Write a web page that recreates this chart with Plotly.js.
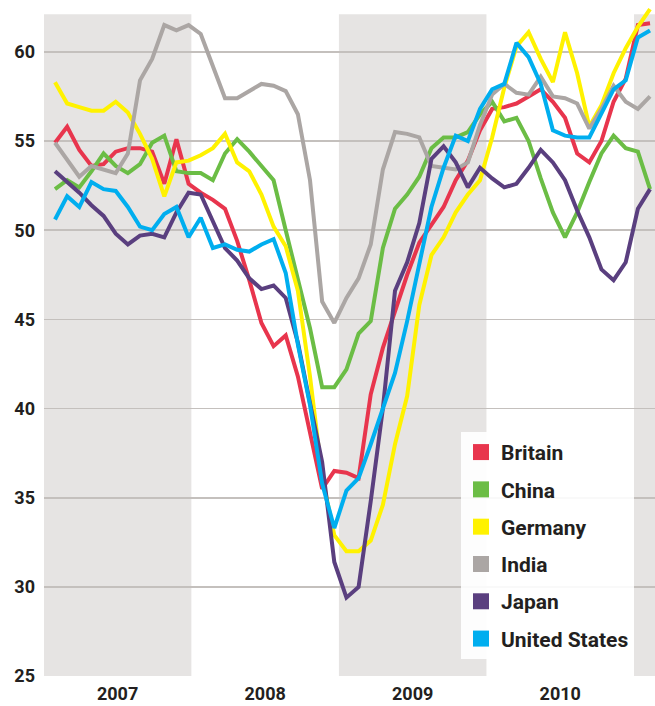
<!DOCTYPE html>
<html>
<head>
<meta charset="utf-8">
<script src="https://cdn.plot.ly/plotly-3.0.1.min.js"></script>
<style>
html,body{margin:0;padding:0;background:#ffffff;}
#chart{width:655px;height:706px;}
</style>
</head>
<body>
<div id="chart"></div>
<script>
// Monthly PMI readings, Jan 2007 - Feb 2011
const months = [
 "2007-01","2007-02","2007-03","2007-04","2007-05","2007-06","2007-07","2007-08","2007-09","2007-10","2007-11","2007-12",
 "2008-01","2008-02","2008-03","2008-04","2008-05","2008-06","2008-07","2008-08","2008-09","2008-10","2008-11","2008-12",
 "2009-01","2009-02","2009-03","2009-04","2009-05","2009-06","2009-07","2009-08","2009-09","2009-10","2009-11","2009-12",
 "2010-01","2010-02","2010-03","2010-04","2010-05","2010-06","2010-07","2010-08","2010-09","2010-10","2010-11","2010-12",
 "2011-01","2011-02"];
const years = ["2007","2008","2009","2010"];

const britain = [54.9,55.8,54.5,53.6,53.7,54.4,54.6,54.6,54.4,52.6, 55.1,52.6,52.1,51.7,51.2,49.4,47.2,44.8,43.5,44.1,
                 41.8,38.7,35.5,36.5,36.4,36.1,40.8,43.4,45.5,47.5, 49.3,50.3,51.3,52.8,53.9,55.6,56.8,56.9,57.1,57.5,
                 57.9,57.2,56.3,54.3,53.8,55.0,57.2,58.5,61.5,61.6];
const china   = [52.3,52.8,52.4,53.3,54.3,53.6,53.2,53.7,54.9,55.3, 53.3,53.2,53.2,52.8,54.3,55.1,54.4,53.6,52.8,50.0,
                 47.2,44.5,41.2,41.2,42.2,44.2,44.9,49.0,51.2,52.0, 53.0,54.6,55.2,55.2,55.5,56.5,57.2,56.1,56.3,55.0,
                 52.9,51.0,49.6,51.0,52.7,54.3,55.3,54.6,54.4,52.3];
const germany = [58.3,57.1,56.9,56.7,56.7,57.2,56.6,55.4,54.0,51.9, 53.8,53.9,54.2,54.6,55.4,53.8,53.3,52.0,50.2,49.1,
                 46.6,41.8,36.2,32.9,32.0,32.0,32.6,34.6,38.0,40.7, 45.8,48.6,49.6,51.0,52.0,52.8,55.2,58.0,60.3,61.1,
                 59.6,58.3,61.1,58.8,55.8,57.0,58.8,60.2,61.4,62.4];
const india   = [54.9,53.9,53.0,53.6,53.4,53.2,54.3,58.4,59.6,61.5, 61.2,61.5,61.0,59.2,57.4,57.4,57.8,58.2,58.1,57.8,
                 56.5,52.8,46.0,44.8,46.2,47.3,49.2,53.4,55.5,55.4, 55.2,53.6,53.5,53.4,53.8,55.9,57.6,58.2,57.7,57.6,
                 58.6,57.5,57.4,57.1,55.7,56.8,58.1,57.2,56.8,57.5];
const japan   = [53.3,52.7,52.1,51.4,50.8,49.8,49.2,49.7,49.8,49.6, 51.0,52.1,52.0,50.5,49.0,48.3,47.3,46.7,46.9,46.2,
                 43.7,40.3,37.0,31.4,29.4,30.0,34.8,40.0,46.6,48.2, 50.4,54.0,54.7,53.8,52.4,53.5,52.9,52.4,52.6,53.5,
                 54.5,53.8,52.8,51.1,49.6,47.8,47.2,48.2,51.2,52.3];
const usa     = [50.6,51.9,51.3,52.7,52.3,52.2,51.3,50.2,50.0,50.9, 51.3,49.6,50.7,49.0,49.2,48.9,48.8,49.2,49.5,47.6,
                 43.6,40.2,35.8,33.3,35.4,36.1,38.0,40.0,42.0,44.9, 48.2,51.3,53.5,55.3,55.0,56.8,57.9,58.2,60.5,59.7,
                 58.2,55.6,55.3,55.2,55.2,56.5,57.9,58.4,60.8,61.2];

const seriesNames = ["Britain","China","Germany","India","Japan","United States"];
const seriesData  = [britain, china, germany, india, japan, usa];
const colors = ["#e8354d","#6bbd45","#fff200","#aba6a4","#5a3f7f","#00aeef"];

// layout helpers (month-index positions of year boundaries)
const xIdx = months.map((m, i) => i);
const yearStarts = [-0.92, 11.23, 23.38, 35.53, 47.68];
const xRange = [-0.906, 49.41];
const bandTop = 62.1;

const traces = [];
seriesData.forEach((vals, k) => {
  traces.push({
    x: xIdx, y: vals, type: "scatter", mode: "lines",
    name: seriesNames[k], showlegend: false, hoverinfo: "skip",
    line: {color: colors[k], width: 4}
  });
});
seriesData.forEach((vals, k) => {
  traces.push({
    x: [null], y: [null], type: "scatter", mode: "markers",
    name: seriesNames[k], legendgroup: "g" + k, showlegend: true,
    marker: {symbol: "square", size: 18, color: colors[k]}
  });
});

const shapes = [];
[0, 2, 4].forEach(k => {
  shapes.push({
    type: "rect", xref: "x", yref: "y",
    x0: yearStarts[k], x1: (k + 1 < yearStarts.length) ? yearStarts[k + 1] : xRange[1] + 1,
    y0: 25, y1: bandTop, fillcolor: "#e6e4e3", line: {width: 0}, layer: "below"
  });
});
shapes.push({
  type: "line", xref: "paper", yref: "y", x0: 0, x1: 1, y0: 50, y1: 50,
  line: {color: "#f07b7b", width: 1.6}, layer: "between"
});

const tickCenters = years.map((y, k) => (yearStarts[k] + yearStarts[k + 1]) / 2);
const tickFont = {family: "Roboto, 'DejaVu Sans', sans-serif", size: 18, color: "#231f20", weight: "bold"};

const layout = {
  width: 655, height: 706,
  margin: {l: 44, r: 0, t: 0, b: 29},
  paper_bgcolor: "#ffffff", plot_bgcolor: "#ffffff",
  showlegend: true,
  xaxis: {
    range: xRange, showgrid: false, zeroline: false, showline: false,
    tickmode: "array", tickvals: tickCenters, ticktext: years,
    ticks: "", tickfont: tickFont, ticklabelstandoff: 4, fixedrange: true
  },
  yaxis: {
    range: [24.95, 62.905], tick0: 25, dtick: 5, showgrid: true,
    gridcolor: "#c4c0bd", gridwidth: 1.6, zeroline: false, showline: false,
    ticks: "", tickfont: tickFont, ticklabelstandoff: 8, fixedrange: true
  },
  legend: {
    x: 0.6825, y: 0.362, xanchor: "left", yanchor: "top",
    bgcolor: "rgba(255,255,255,0.9)", borderwidth: 0,
    font: {family: "Roboto, 'DejaVu Sans', sans-serif", size: 21, color: "#231f20", weight: "bold"},
    traceorder: "grouped", tracegroupgap: 7, itemsizing: "trace"
  },
  shapes: shapes
};

Plotly.newPlot("chart", traces, layout, {displayModeBar: false, staticPlot: true});
</script>
</body>
</html>
